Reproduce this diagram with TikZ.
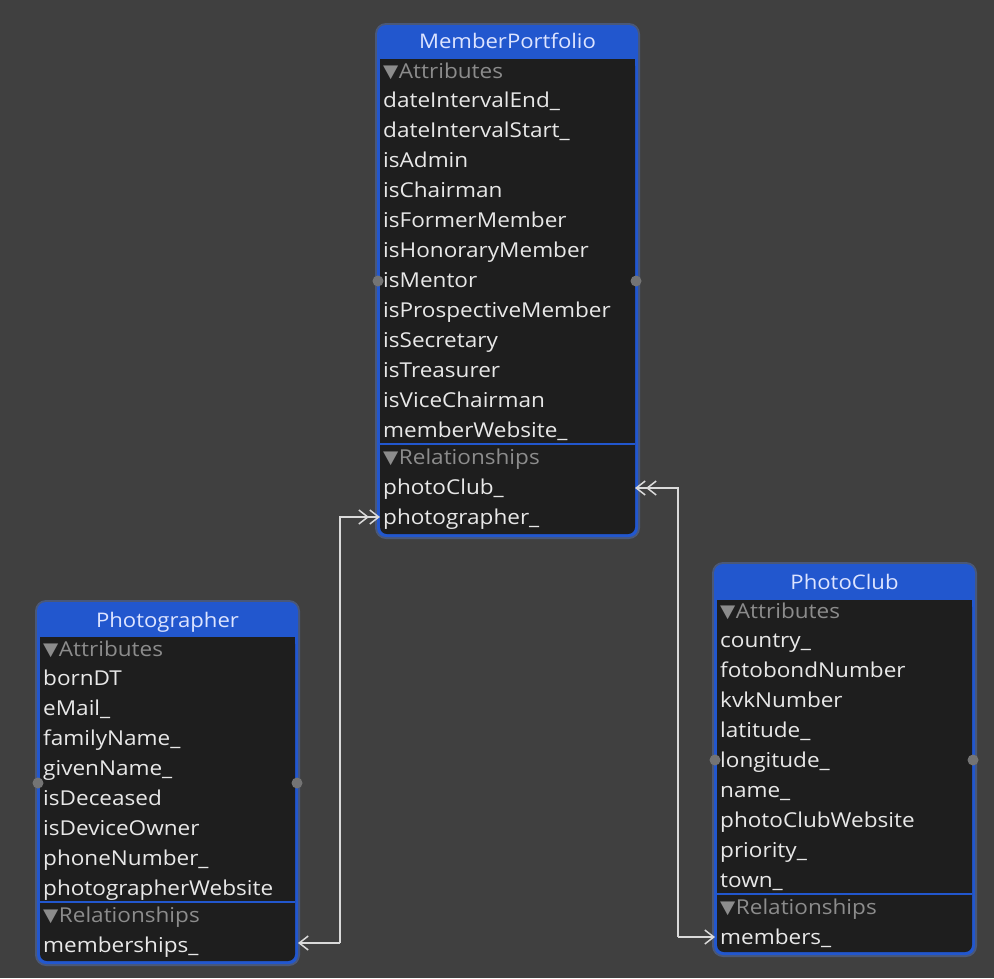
\documentclass[tikz,border=0pt]{standalone}
\usepackage{fontspec}
\setmainfont{Open Sans}[FakeStretch=1.10]
\newfontfamily\symfont{DejaVu Sans}[FakeStretch=1.1]
\usetikzlibrary{arrows.meta}
\definecolor{bgc}{HTML}{404040}
\definecolor{haloc}{HTML}{4A5878}
\definecolor{hblue}{HTML}{2257CE}
\definecolor{bodyc}{HTML}{1E1E1E}
\definecolor{titlec}{HTML}{DDE4FF}
\definecolor{rowc}{HTML}{E8E8E8}
\definecolor{secc}{HTML}{8C8C8C}
\definecolor{linkc}{HTML}{DADADA}
\definecolor{dotc}{HTML}{747474}
\newcommand\tri{{\symfont\fontsize{18}{18}\selectfont\raisebox{1pt}{▼}}\kern0.5pt}
\tikzset{
  halo/.style={fill=haloc, rounded corners=11pt},
  frame/.style={fill=hblue, rounded corners=9pt},
  bodyfill/.style={fill=bodyc, rounded corners=7pt},
  title/.style={anchor=base, text=titlec, font=\fontsize{20.1}{24}\selectfont, inner sep=0pt},
  row/.style={anchor=base west, text=rowc, font=\fontsize{20.5}{24}\selectfont, inner sep=0pt},
  sec/.style={anchor=base west, text=secc, font=\fontsize{20.5}{24}\selectfont, inner sep=0pt},
  sepline/.style={draw=hblue, line width=1.5pt},
  sidedot/.style={circle, fill=dotc, minimum size=11pt, inner sep=0pt},
  link/.style={draw=linkc, line width=1.5pt},
  one/.style={-{Straight Barb[length=9pt,width=14pt,line width=1.5pt]}},
  many/.style={-{Straight Barb[length=9pt,width=14pt,line width=1.5pt]Straight Barb[length=9pt,width=14pt,line width=1.5pt,sep=-2pt]}}
}
\begin{document}
\begin{tikzpicture}[x=1pt,y=-1pt]
\fill[bgc] (0,0) rectangle (994,978);
\useasboundingbox (0,0) rectangle (994,978);

% ---------- MemberPortfolio ----------
\path[halo] (375,23) rectangle (640,539);
\path[frame] (377,25) rectangle (638,537);
\path[bodyfill] (380,59) rectangle (635,534);
\fill[bodyc] (380,59) rectangle (635,70);
\node[title] (mp) at (507.5,48) {MemberPortfolio};
\node[sec] (mpa) at (383,78) {\tri Attributes};
\foreach \t [count=\i from 0] in {dateIntervalEnd\_,dateIntervalStart\_,isAdmin,isChairman,isFormerMember,isHonoraryMember,isMentor,isProspectiveMember,isSecretary,isTreasurer,isViceChairman,memberWebsite\_}
  \node[row] (mpr\i) at (383,107+30*\i) {\t};
\draw[sepline] (380,444) -- (635,444);
\node[sec] (mprel) at (383,464) {\tri Relationships};
\node[row] (mpclub) at (383,494) {photoClub\_};
\node[row] (mpphot) at (383,524) {photographer\_};
\node[sidedot] (mpdl) at (378,281) {};
\node[sidedot] (mpdr) at (636,281) {};
\coordinate (mpW) at (378,0);
\coordinate (mpE) at (637,0);

% ---------- Photographer ----------
\path[halo] (35,600) rectangle (300,966);
\path[frame] (37,602) rectangle (298,964);
\path[bodyfill] (40,637) rectangle (295,961);
\fill[bodyc] (40,637) rectangle (295,648);
\node[title] (pg) at (167.5,627) {Photographer};
\node[sec] (pga) at (43,656) {\tri Attributes};
\foreach \t [count=\i from 0] in {bornDT,eMail\_,familyName\_,givenName\_,isDeceased,isDeviceOwner,phoneNumber\_,photographerWebsite}
  \node[row] (pgr\i) at (43,685+30*\i) {\t};
\draw[sepline] (40,902) -- (295,902);
\node[sec] (pgrel) at (43,922) {\tri Relationships};
\node[row] (pgmem) at (43,952) {memberships\_};
\node[sidedot] (pgdl) at (38,783) {};
\node[sidedot] (pgdr) at (297,783) {};
\coordinate (pgE) at (298,0);

% ---------- PhotoClub ----------
\path[halo] (712,562) rectangle (977,957);
\path[frame] (714,564) rectangle (975,955);
\path[bodyfill] (717,600) rectangle (972,952);
\fill[bodyc] (717,600) rectangle (972,611);
\node[title] (pc) at (844.5,589) {PhotoClub};
\node[sec] (pca) at (720,618) {\tri Attributes};
\foreach \t [count=\i from 0] in {country\_,fotobondNumber,kvkNumber,latitude\_,longitude\_,name\_,photoClubWebsite,priority\_,town\_}
  \node[row] (pcr\i) at (720,647+30*\i) {\t};
\draw[sepline] (717,894) -- (972,894);
\node[sec] (pcrel) at (720,914) {\tri Relationships};
\node[row] (pcmem) at (720,944) {members\_};
\node[sidedot] (pcdl) at (715,760) {};
\node[sidedot] (pcdr) at (973,760) {};
\coordinate (pcW) at (715,0);

% ---------- connectors ----------
\coordinate (bendA) at (340,0);
\coordinate (bendB) at (678,0);
\coordinate (yPhot) at (0,517);
\coordinate (yMem) at (0,943);
\coordinate (yClub) at (0,488);
\coordinate (yMembers) at (0,937);
\draw[link,one] (bendA |- yMem) -- (pgE |- yMem);
\draw[link,many] (bendA |- yMem) -- (bendA |- yPhot) -- (mpW |- yPhot);
\draw[link,many] (bendB |- yMembers) -- (bendB |- yClub) -- (mpE |- yClub);
\draw[link,one] (bendB |- yMembers) -- (pcW |- yMembers);
\end{tikzpicture}
\end{document}
